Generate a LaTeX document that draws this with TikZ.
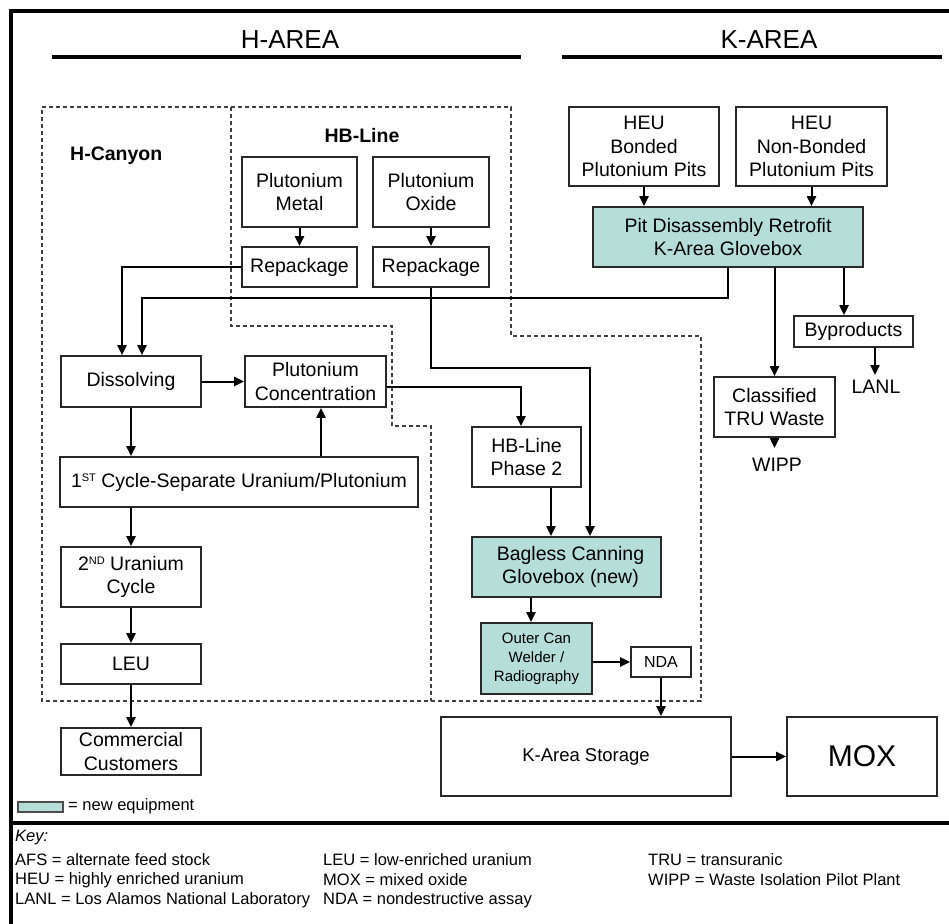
\documentclass[tikz,border=0pt]{standalone}
\usepackage{fontspec}
\setmainfont{Liberation Sans}
\usetikzlibrary{arrows.meta}
\definecolor{teal1}{RGB}{182,222,216}
\definecolor{boxline}{RGB}{40,40,40}
\begin{document}
\begin{tikzpicture}[x=1pt,y=-1pt,
  box/.style={draw=boxline, line width=1.7pt, fill=white, align=center, inner sep=0pt,
              font=\fontsize{19.5}{23.5}\selectfont},
  newbox/.style={box, fill=teal1},
  arr/.style={-{Triangle[length=10pt,width=9pt]}, line width=2pt, black},
  zone/.style={draw=black!75, line width=1.4pt, dash pattern=on 4pt off 3pt},
  txt/.style={font=\fontsize{19.5}{23.5}\selectfont, align=center, inner sep=0pt},
  lbl/.style={font=\bfseries\fontsize{19.5}{23.5}\selectfont, inner sep=0pt},
  keytxt/.style={font=\fontsize{16.5}{19}\selectfont, anchor=west, inner sep=0pt},
  title/.style={font=\fontsize{26}{30}\selectfont, inner sep=0pt},
  rule/.style={line width=4pt, black}
]
\useasboundingbox (0,0) rectangle (949,923);
\clip (0,0) rectangle (949,923);
\fill[white] (0,0) rectangle (949,923);

% frame
\draw[line width=3.5pt] (11,930) -- (11,11) -- (955,11);
\draw[line width=3.5pt] (11,823) -- (955,823);

% titles
\node[title] (harea) at (290,40) {H-AREA};
\node[title] (karea) at (769,40) {K-AREA};
\draw[rule] (52,57) -- (521,57);
\draw[rule] (562,57) -- (942,57);

% dashed zones
\draw[zone] (42,107) -- (511,107) -- (511,336) -- (701,336) -- (701,701) -- (42,701) -- cycle;
\draw[zone] (231,107) -- (231,326) -- (392,326) -- (392,426) -- (431,426) -- (431,701);

\node[lbl, anchor=west] (hcanyon) at (70,156) {H-Canyon};
\node[lbl] (hbline) at (362,136) {HB-Line};

% HB-Line boxes
\node[box, minimum width=115, minimum height=70] (pumetal) at (299.5,192) {Plutonium\\Metal};
\node[box, minimum width=116, minimum height=70] (puoxide) at (431,192) {Plutonium\\Oxide};
\node[box, minimum width=115, minimum height=40] (rep1) at (299.5,267) {Repackage};
\node[box, minimum width=116, minimum height=40] (rep2) at (431,267) {Repackage};

% K-Area top
\node[box, minimum width=150, minimum height=79] (heub) at (644,146.5) {HEU\\Bonded\\Plutonium Pits};
\node[box, minimum width=151, minimum height=79] (heun) at (811.5,146.5) {HEU\\Non-Bonded\\Plutonium Pits};
\node[newbox, minimum width=270, minimum height=60] (pit) at (728,237) {Pit Disassembly Retrofit\\K-Area Glovebox};
\node[box, minimum width=119, minimum height=31] (byp) at (853.5,331.5) {Byproducts};
\node[box, minimum width=121, minimum height=60] (cls) at (774.5,407) {Classified\\TRU Waste};
\node[txt] (lanl) at (876,387) {LANL};
\node[txt] (wipp) at (777,465) {WIPP};

% H-Canyon boxes
\node[box, minimum width=140, minimum height=51] (diss) at (131,381.5) {Dissolving};
\node[box, minimum width=141, minimum height=51] (pucon) at (315.5,381.5) {Plutonium\\Concentration};
\node[box, minimum width=358, minimum height=50] (cyc1) at (239,482)
  {1{\fontsize{11}{11}\selectfont\raisebox{6pt}{ST}} Cycle-Separate Uranium/Plutonium};
\node[box, minimum width=140, minimum height=60] (cyc2) at (131,577)
  {2{\fontsize{11}{11}\selectfont\raisebox{6pt}{ND}} Uranium\\Cycle};
\node[box, minimum width=140, minimum height=40] (leu) at (131,664) {LEU};
\node[box, minimum width=140, minimum height=47] (comm) at (131,751.5) {Commercial\\Customers};

% HB-Line phase 2 etc.
\node[box, minimum width=109, minimum height=60] (hbl2) at (526.5,457) {HB-Line\\Phase 2};
\node[newbox, minimum width=189, minimum height=60] (bag) at (566.5,567) {\hspace*{8pt}Bagless Canning\\\hspace*{8pt}Glovebox (new)};
\node[newbox, minimum width=111, minimum height=71, font=\fontsize{15}{19}\selectfont] (ocw) at (536.5,658.5) {Outer Can\\Welder /\\Radiography};
\node[box, minimum width=60, minimum height=30, font=\fontsize{16}{19}\selectfont] (nda) at (661,662) {NDA};
\node[box, minimum width=290, minimum height=79, font=\fontsize{18.5}{22}\selectfont] (stor) at (586,756.5) {K-Area Storage};
\node[box, minimum width=150, minimum height=79, font=\fontsize{30}{34}\selectfont] (mox) at (862,756.5) {MOX};

% connectors
\draw[arr] (pumetal.south) -- (rep1.north);
\draw[arr] (puoxide.south) -- (rep2.north);
\draw[arr] (rep1.west) -| ([xshift=-9pt]diss.north);
\draw[arr] (pit.south) -- ++(0,30) -| ([xshift=11pt]diss.north);
\draw[arr] (rep2.south) -- ++(0,80) -| ([xshift=23.5pt]bag.north);
\draw[arr] (diss.east) -- (pucon.west);
\draw[arr] (diss.south) -- (diss.south |- cyc1.north);
\draw[arr] ([xshift=5.5pt]pucon.south |- cyc1.north) -- ([xshift=5.5pt]pucon.south);
\draw[arr] ([yshift=-5.5pt]pucon.east) -| ([xshift=-5.5pt]hbl2.north);
\draw[arr] (cyc2.north |- cyc1.south) -- (cyc2.north);
\draw[arr] (cyc2.south) -- (leu.north);
\draw[arr] (leu.south) -- (comm.north);
\draw[arr] ([xshift=24.5pt]hbl2.south) -- ([xshift=24.5pt]hbl2.south |- bag.north);
\draw[arr] ([xshift=-5.5pt]ocw.north |- bag.south) -- ([xshift=-5.5pt]ocw.north);
\draw[arr] (ocw.east |- nda.west) -- (nda.west);
\draw[arr] (nda.south) -- (nda.south |- stor.north);
\draw[arr] (stor.east) -- (mox.west);
\draw[arr] (heub.south) -- (heub.south |- pit.north);
\draw[arr] (heun.south) -- (heun.south |- pit.north);
\draw[arr] (cls.north |- pit.south) -- (cls.north);
\draw[arr] ([xshift=-9.5pt]byp.north |- pit.south) -- ([xshift=-9.5pt]byp.north);
\draw[arr, shorten >=5pt] ([xshift=21.5pt]byp.south) -- ([xshift=21.5pt]byp.south |- lanl.north);
\draw[arr, shorten >=10pt] (cls.south) -- (cls.south |- wipp.north);

% legend
\draw[draw=black!70, line width=1.2pt, fill=teal1] (18,802) rectangle (63,812);
\node[keytxt] (legend) at (68,806) {= new equipment};

% key
\node[keytxt, font=\itshape\fontsize{16.5}{19}\selectfont] (key) at (15,838) {Key:};
\node[keytxt] (k1) at (15,860) {AFS = alternate feed stock};
\node[keytxt] (k2) at (15,880) {HEU = highly enriched uranium};
\node[keytxt] (k3) at (15,900) {LANL = Los Alamos National Laboratory};
\node[keytxt] (k4) at (323,860) {LEU = low-enriched uranium};
\node[keytxt] (k5) at (323,880) {MOX = mixed oxide};
\node[keytxt] (k6) at (323,900) {NDA = nondestructive assay};
\node[keytxt] (k7) at (648,860) {TRU = transuranic};
\node[keytxt] (k8) at (648,880) {WIPP = Waste Isolation Pilot Plant};
\end{tikzpicture}
\end{document}
